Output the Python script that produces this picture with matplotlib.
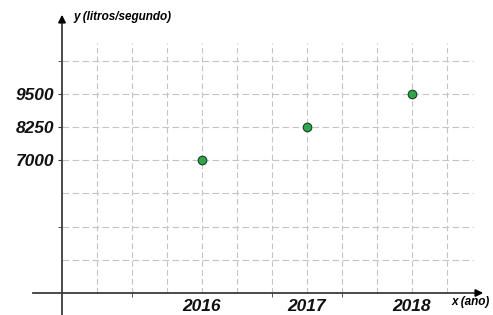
import numpy as np
import matplotlib.pyplot as plt

plt.rcParams["font.family"] = ["Liberation Sans", "DejaVu Sans"]

# data
YEARS = [2016, 2017, 2018]
FLOW = [7000, 8250, 9500]
Y_LABELS = ["7000", "8250", "9500"]
X_LABELS = ["2016", "2017", "2018"]

# grid: one cell = 1/3 year horizontally, 1250 L/s vertically
X0 = 2016 - 4 / 3          # where the y axis crosses
Y0 = 2000                  # where the x axis crosses
DX = 1 / 3
DY = 1250
PX_X = 105.0               # pixels per year
PX_Y = 33.2 / DY           # pixels per L/s

W, H = 493, 315
AX_COL, AX_ROW = 62, 293   # pixel position of the axes crossing


def px_x(col):
    return X0 + (col - AX_COL) / PX_X


def px_y(row):
    return Y0 + (AX_ROW - row) / PX_Y


fig = plt.figure(figsize=(W / 100, H / 100), dpi=100)
ax = fig.add_axes([0, 0, 1, 1])
ax.set_xlim(px_x(0), px_x(W))
ax.set_ylim(px_y(H), px_y(0))

axis_col = "#3c3c3c"
grid_col = "#c4c4c4"

# dashed grid
vx = X0 + DX * np.arange(1, 12)
hy = Y0 + DY * np.arange(1, 8)
ax.vlines(vx, Y0, px_y(43), colors=grid_col, lw=0.8, linestyles=(0, (5, 3)), zorder=1)
ax.hlines(hy, X0, px_x(473), colors=grid_col, lw=0.8, linestyles=(0, (6, 3)), zorder=1)

# axes crossing at (X0, Y0)
for s in ["top", "right"]:
    ax.spines[s].set_visible(False)
ax.spines["left"].set_position(("data", X0))
ax.spines["bottom"].set_position(("data", Y0))
ax.spines["left"].set_bounds(px_y(H), px_y(20))
ax.spines["bottom"].set_bounds(px_x(33), px_x(478))
for s in ["left", "bottom"]:
    ax.spines[s].set_color(axis_col)
    ax.spines[s].set_linewidth(1.3)

ax.annotate("", xy=(X0, px_y(12)), xytext=(X0, px_y(24)),
            arrowprops=dict(arrowstyle="-|>", color="black", lw=1.2, mutation_scale=11))
ax.annotate("", xy=(px_x(486), Y0), xytext=(px_x(474), Y0),
            arrowprops=dict(arrowstyle="-|>", color="black", lw=1.2, mutation_scale=11))

# ticks
lab_font = dict(fontsize=12.5, fontweight="bold", fontstyle="italic")
ax.set_xticks(YEARS)
ax.set_xticklabels(X_LABELS, **lab_font)
ax.set_xticks(X0 + 2 * DX * np.arange(1, 6), minor=True)
ax.tick_params(axis="x", which="major", length=0, pad=4.5, colors="#111111")
ax.tick_params(axis="x", which="minor", length=3, direction="out", color=axis_col)

ax.set_yticks(FLOW)
ax.set_yticklabels(Y_LABELS, **lab_font)
ax.set_yticks([Y0 + 2 * DY, Y0 + 7 * DY], minor=True)
ax.tick_params(axis="y", which="both", length=3, direction="out", color=axis_col,
               pad=2.5, colors="#111111")
ax.tick_params(axis="y", which="both", color=axis_col)

# axis titles
fig.text(73 / W, 1 - 17 / H, "y (litros/segundo)", fontsize=8.5, fontweight="bold",
         fontstyle="italic", ha="left", va="center")
fig.text(452 / W, 1 - 302 / H, "x (ano)", fontsize=8.5, fontweight="bold",
         fontstyle="italic", ha="left", va="center")

# points
ax.plot(YEARS, FLOW, "o", color="#2ba84a", markersize=6.2,
        markeredgecolor="#1f3d22", markeredgewidth=0.8, zorder=5)

fig.savefig("out.png", dpi=100)
